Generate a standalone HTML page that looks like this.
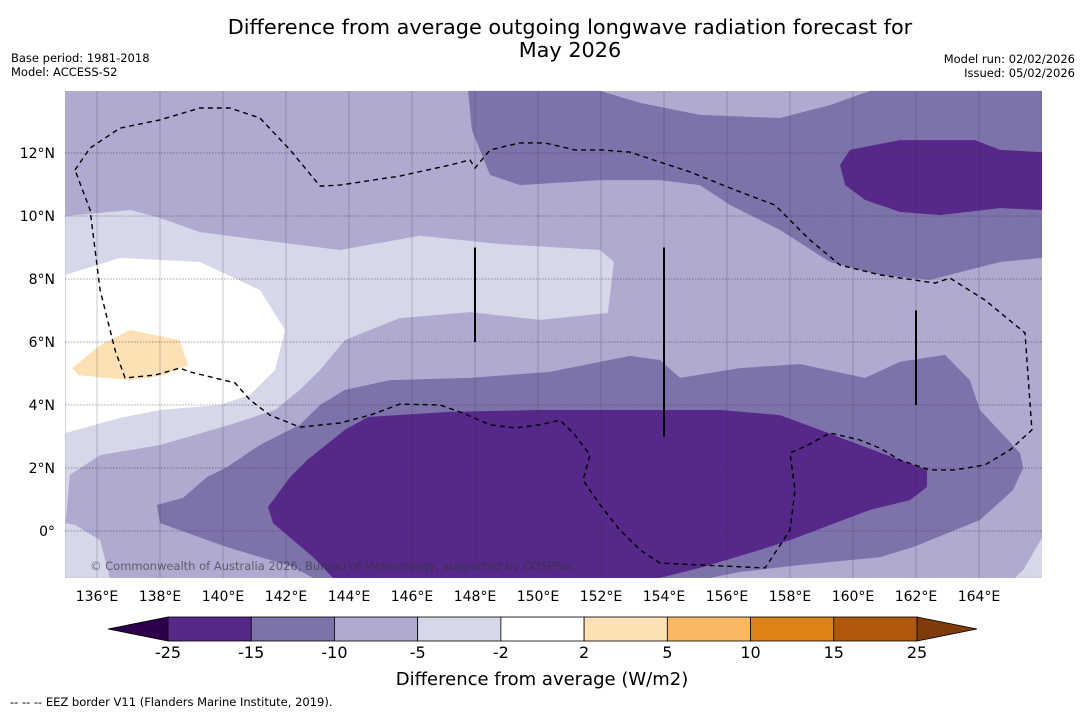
<!DOCTYPE html>
<html><head><meta charset="utf-8"><style>
body{margin:0;background:#fff;font-family:"Liberation Sans","DejaVu Sans",sans-serif;}
svg text{font-family:"DejaVu Sans","Liberation Sans",sans-serif;}
</style></head><body>
<svg id="c" width="1085" height="713" viewBox="0 0 1085 713" xmlns="http://www.w3.org/2000/svg">
<text x="570" y="34" text-anchor="middle" font-size="20.8">Difference from average outgoing longwave radiation forecast for</text>
<text x="570" y="57" text-anchor="middle" font-size="20.8">May 2026</text>
<text x="11" y="62" font-size="11.5">Base period: 1981-2018</text>
<text x="11" y="76" font-size="11.5">Model: ACCESS-S2</text>
<text x="1075" y="63" font-size="11.5" text-anchor="end">Model run: 02/02/2026</text>
<text x="1075" y="77" font-size="11.5" text-anchor="end">Issued: 05/02/2026</text>
<g id="map"></g>
<g id="cb"></g>
<text x="542" y="685" text-anchor="middle" font-size="18">Difference from average (W/m2)</text>
<text x="10" y="706" font-size="11.5">--  --  -- EEZ border V11 (Flanders Marine Institute, 2019).</text>
</svg>
<script>
const lonTicks=[136,138,140,142,144,146,148,150,152,154,156,158,160,162,164];
const latTicks=[0,2,4,6,8,10,12];
const lightRegion=[[135,10],[137.05,10.19],[138,9.94],[139.27,9.49],[141.17,9.24],[143.71,8.92],[146.25,9.37],[148.79,9.11],[151.97,8.92],[152.41,8.54],[152.22,6.92],[150.06,6.7],[147.84,6.95],[145.62,6.76],[143.87,6.06],[143.08,5.11],[142.44,4.48],[141.65,3.84],[140.22,3.37],[138,2.73],[136.1,2.41],[135.14,1.78],[135,0.25],[135.3,0.19],[136.1,-0.29],[136.41,-1.49],[135,-1.49]];
const lightRegion2=[[166,-0.22],[165.4,-1.24],[165.14,-1.49],[166,-1.49]];
const whiteRegion=[[135,8.13],[136.73,8.67],[139.27,8.54],[141.17,7.65],[141.97,6.38],[141.65,5.11],[140.86,4.32],[139.9,4.0],[138,3.84],[136.73,3.59],[135,3.11]];
const orangeRegion=[[135.21,5.17],[136.1,5.9],[137.05,6.38],[138.63,6.06],[138.89,5.27],[138.16,4.95],[137.05,4.79],[135.4,4.95]];
const mediumRegionTop=[[147.78,13.97],[151.97,13.97],[153.24,13.59],[155.14,13.21],[157.68,13.11],[159.27,13.52],[160.54,13.97],[166,13.97],[166,8.67],[164.67,8.54],[162.44,7.97],[160.86,8.13],[159.27,8.54],[157.68,9.56],[156.1,10.35],[155.14,10.98],[153.87,11.14],[151.97,11.14],[149.43,10.98],[148.48,11.3],[147.9,12.73]];
const mediumRegionBottom=[[137.9,0.83],[138.73,1.05],[139.49,1.71],[140.13,2.03],[141.17,2.73],[142.44,3.37],[143.08,4.0],[143.87,4.48],[145.3,4.79],[147.84,4.86],[150.38,5.05],[152.92,5.56],[153.87,5.43],[154.51,4.86],[156.41,5.17],[158.32,5.3],[160.38,4.86],[161.49,5.37],[162.92,5.59],[163.71,4.79],[164.03,3.84],[165.3,2.48],[165.4,2.0],[165.08,1.3],[164.03,0.35],[161.9,-0.51],[160.86,-0.83],[158.32,-1.08],[156.41,-1.3],[155.46,-1.49],[142.86,-1.49],[142.22,-1.14],[140.13,-0.51],[138,0.25]];
const darkRegionTop=[[159.9,12.1],[161.49,12.41],[163.87,12.41],[164.67,12.1],[166,12.03],[166,10.19],[164.67,10.25],[162.76,10.03],[161.49,10.13],[160.38,10.51],[159.75,10.98],[159.59,11.62]];
const darkRegionBottom=[[141.43,0.76],[142.13,1.71],[142.67,2.25],[143.87,3.21],[144.6,3.62],[147.21,3.78],[150.06,3.84],[153.24,3.84],[155.78,3.84],[157.68,3.68],[158.95,3.21],[160.22,2.73],[161.49,2.25],[162.35,1.94],[162.35,1.4],[161.81,0.98],[160.54,0.67],[159.27,0.19],[158,-0.29],[157.05,-0.6],[155.14,-1.17],[153.87,-1.49],[143.49,-1.49],[142.86,-0.83],[141.59,0.25]];
const eezBorder=[[135.3,11.46],[135.78,12.16],[136.73,12.79],[138,13.05],[139.27,13.43],[140.22,13.43],[141.17,13.11],[142.13,12.1],[143.08,10.95],[143.71,10.98],[145.62,11.27],[147.21,11.62],[147.84,11.78],[148,11.52],[148.48,12.1],[149.43,12.32],[150.22,12.32],[151.17,12.1],[151.97,12.1],[152.92,12.03],[153.87,11.71],[154.83,11.4],[156.25,10.83],[157.52,10.35],[158.63,9.24],[159.59,8.44],[160.86,8.13],[162.6,7.87],[163.08,8.03],[164.19,7.33],[165.46,6.29],[165.68,3.21],[164.98,2.57],[164.19,2.1],[163.24,1.94],[162.44,1.94],[161.49,2.25],[160.86,2.63],[160.22,2.89],[159.27,3.11],[158.57,2.73],[158,2.48],[158.16,1.3],[158,0.03],[157.21,-1.17],[155.14,-1.08],[153.87,-1.02],[153.24,-0.6],[152.6,0.03],[151.97,0.83],[151.43,1.62],[151.65,2.41],[151.17,3.05],[150.7,3.52],[150.06,3.37],[149.27,3.27],[148.48,3.37],[147.52,3.78],[146.89,4.0],[145.62,4.03],[144.67,3.68],[143.71,3.43],[142.44,3.3],[141.49,3.68],[140.86,4.16],[140.38,4.7],[138.95,5.05],[138.63,5.17],[137.84,4.95],[136.89,4.86],[136.57,5.75],[136.1,7.65],[135.78,10.19],[135.3,11.46]];
const vLines=[[148,9,6],[154,9,3],[162,7,4]];
const cbBounds=[-25,-15,-10,-5,-2,2,5,10,15,25];
const cbColors=["#55288a","#7e72aa","#b0a9d0","#d7d7ea","#ffffff","#fde0b4","#fbb862","#df8216","#b1590b"];

const NS="http://www.w3.org/2000/svg";
const X0=65,X1=1042,Y0=91,Y1=578;
function xs(lon){return 97+(lon-136)*31.5;}
function ys(lat){return 531-lat*31.5;}
function mk(tag,attrs,parent){const e=document.createElementNS(NS,tag);for(const k in attrs)e.setAttribute(k,attrs[k]);parent.appendChild(e);return e;}
const map=document.getElementById('map');
const bg=mk('rect',{x:X0,y:Y0,width:X1-X0,height:Y1-Y0,fill:'#b0a9d0'},map);


function poly(pts,fill,name){
  const p=mk('polygon',{points:pts.map(q=>xs(q[0]).toFixed(1)+','+ys(q[1]).toFixed(1)).join(' '),fill:fill},map);
  
  
}
poly(lightRegion,'#d7d7ea','contour-minus5-to-minus2-west');
poly(lightRegion2,'#d7d7ea','contour-minus5-to-minus2-southeast');
poly(whiteRegion,'#ffffff','contour-near-average');
poly(orangeRegion,'#fde0b4','contour-2-to-5');
poly(mediumRegionTop,'#7e72aa','contour-minus15-to-minus10-north');
poly(mediumRegionBottom,'#7e72aa','contour-minus15-to-minus10-south');
poly(darkRegionTop,'#55288a','contour-below-minus15-north');
poly(darkRegionBottom,'#55288a','contour-below-minus15-south');
lonTicks.forEach(l=>{
  const g=mk('line',{x1:xs(l),x2:xs(l),y1:Y0,y2:Y1,stroke:'#333','stroke-opacity':0.3,'stroke-width':0.8},map);
  
  
  const t=mk('text',{x:xs(l),y:601,'text-anchor':'middle','font-size':14},map);
  t.textContent=l+'°E';
  
  
});
latTicks.forEach(l=>{
  const g=mk('line',{x1:X0,x2:X1,y1:ys(l),y2:ys(l),stroke:'#333','stroke-opacity':0.45,'stroke-width':1,'stroke-dasharray':'1.5,1.5'},map);
  
  
  const t=mk('text',{x:55,y:ys(l)+5,'text-anchor':'end','font-size':14},map);
  t.textContent=l===0?'0°':l+'°N';
  
  
});
const ez=mk('polyline',{points:eezBorder.map(q=>xs(q[0]).toFixed(1)+','+ys(q[1]).toFixed(1)).join(' '),fill:'none',stroke:'#000','stroke-width':1.4,'stroke-dasharray':'5,4'},map);


vLines.forEach(v=>{
  const l=mk('line',{x1:xs(v[0]),x2:xs(v[0]),y1:ys(v[1]),y2:ys(v[2]),stroke:'#000','stroke-width':2},map);
  
  
});
const cp=mk('text',{x:90,y:570,'font-size':11.5,fill:'#333','fill-opacity':0.65},map);
cp.textContent='© Commonwealth of Australia 2026, Bureau of Meteorology, supported by COSPPac';


const cb=document.getElementById('cb');
const CB0=168,CB1=917,CBY=617,CBH=24,n=cbColors.length,seg=(CB1-CB0)/n;
const lo=mk('polygon',{points:`${CB0},${CBY} 108,${CBY+CBH/2} ${CB0},${CBY+CBH}`,fill:'#2d004b',stroke:'#000','stroke-width':0.8},cb);


const hi=mk('polygon',{points:`${CB1},${CBY} 977,${CBY+CBH/2} ${CB1},${CBY+CBH}`,fill:'#7f3b08',stroke:'#000','stroke-width':0.8},cb);


cbColors.forEach((c,i)=>{
  const r=mk('rect',{x:CB0+i*seg,y:CBY,width:seg,height:CBH,fill:c,stroke:'#000','stroke-width':0.8},cb);
  
  
});
cbBounds.forEach((b,i)=>{
  const t=mk('text',{x:CB0+i*seg,y:658,'text-anchor':'middle','font-size':16},cb);
  t.textContent=b;
  
  
});
</script>
</body></html>
